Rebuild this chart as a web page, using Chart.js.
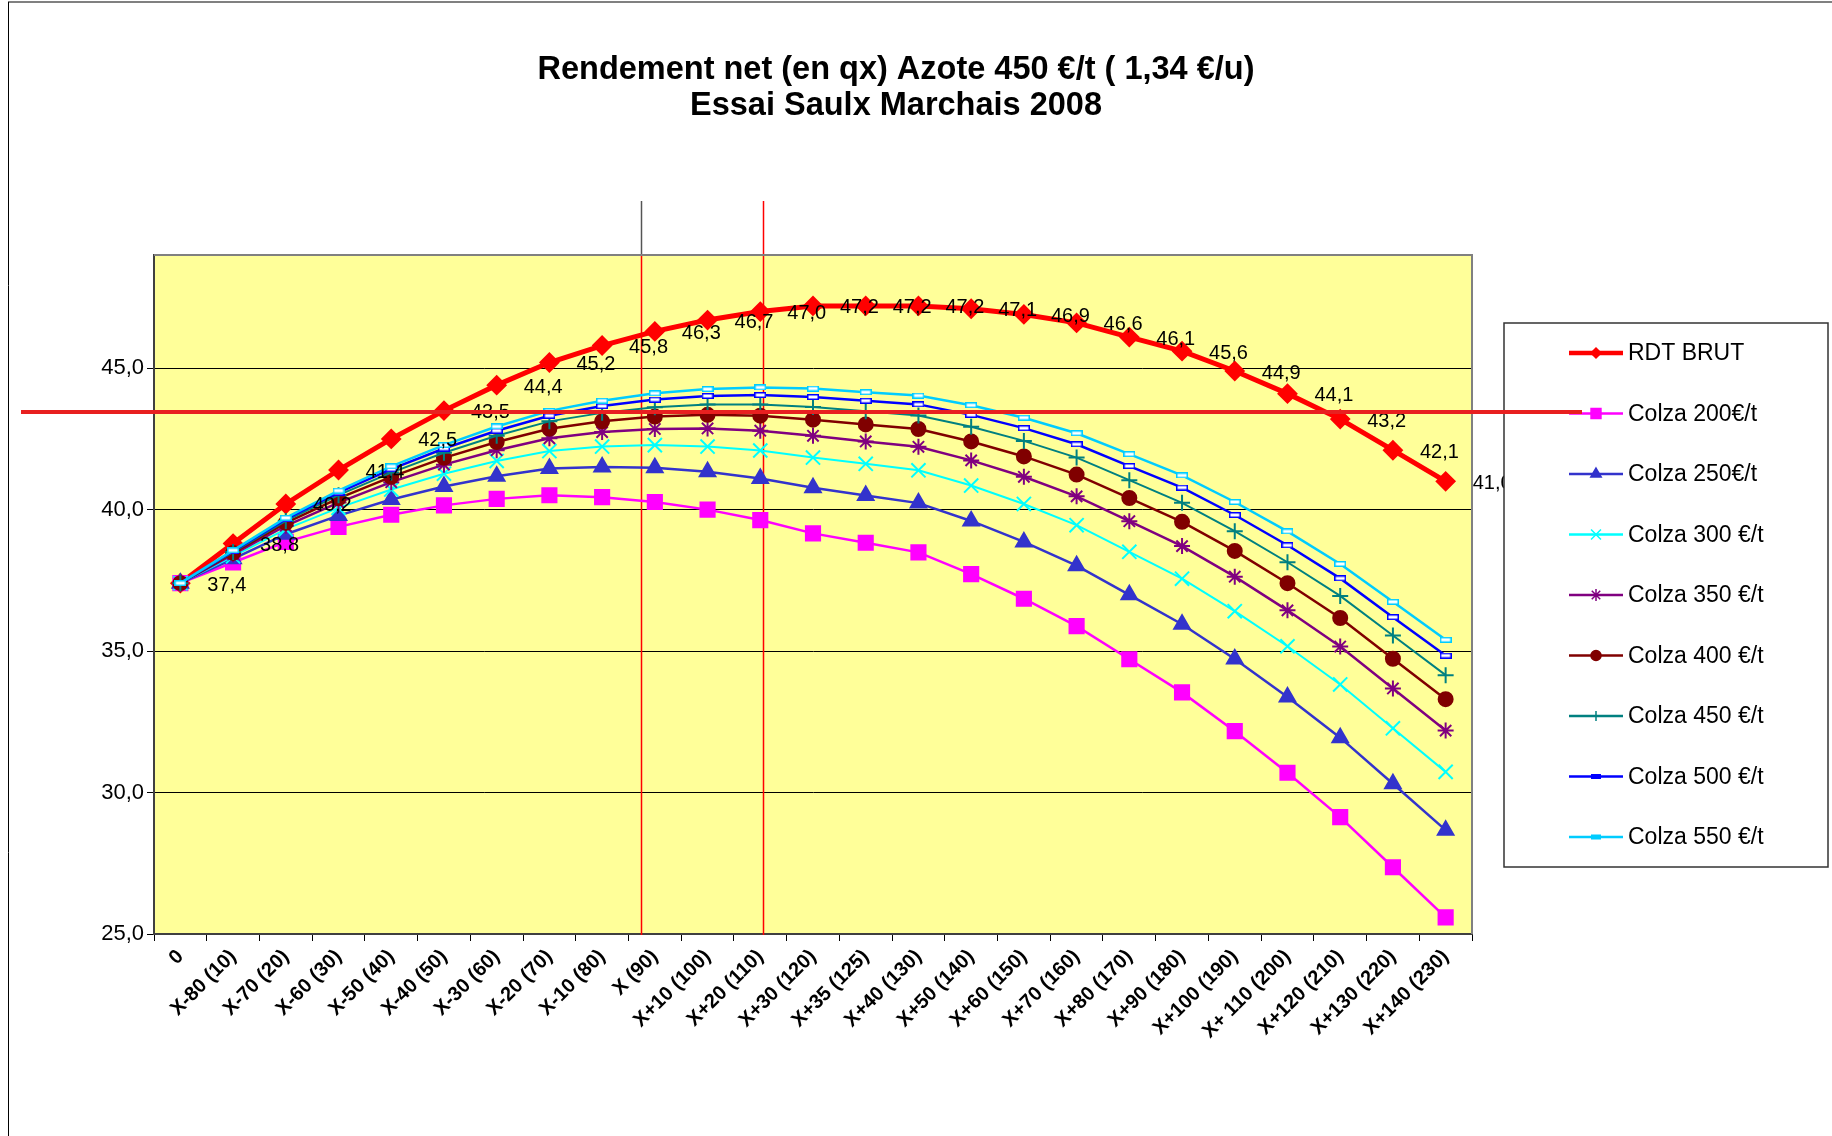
<!DOCTYPE html>
<html lang="fr">
<head>
<meta charset="UTF-8">
<title>Rendement net (en qx) Azote 450 €/t</title>
<script src="https://cdn.jsdelivr.net/npm/chart.js"></script>
<style>
  html, body { margin: 0; padding: 0; background: #fff; }
  #wrap { width: 1832px; height: 1136px; position: relative; }
</style>
</head>
<body>
<div id="wrap"><canvas id="chart"></canvas></div>
<script>
// doses d'azote (X = dose conseillée, 90 u)
const categories = ['0', 'X-80 (10)', 'X-70 (20)', 'X-60 (30)', 'X-50 (40)', 'X-40 (50)', 'X-30 (60)',
  'X-20 (70)', 'X-10 (80)', 'X (90)', 'X+10 (100)', 'X+20 (110)', 'X+30 (120)', 'X+35 (125)',
  'X+40 (130)', 'X+50 (140)', 'X+60 (150)', 'X+70 (160)', 'X+80 (170)', 'X+90 (180)',
  'X+100 (190)', 'X+ 110 (200)', 'X+120 (210)', 'X+130 (220)', 'X+140 (230)'];

const rdtBrut  = [37.4, 38.8, 40.2, 41.4, 42.5, 43.5, 44.4, 45.2, 45.8, 46.3, 46.7, 47.0, 47.2, 47.2, 47.2, 47.1, 46.9, 46.6, 46.1, 45.6, 44.9, 44.1, 43.2, 42.1, 41.0];
const colza200 = [37.4, 38.13, 38.86, 39.39, 39.82, 40.15, 40.38, 40.51, 40.44, 40.27, 40.00, 39.63, 39.16, 38.83, 38.49, 37.72, 36.85, 35.88, 34.71, 33.54, 32.17, 30.70, 29.13, 27.36, 25.59];
const colza250 = [37.4, 38.26, 39.13, 39.79, 40.36, 40.82, 41.18, 41.45, 41.51, 41.48, 41.34, 41.10, 40.77, 40.50, 40.23, 39.60, 38.86, 38.02, 36.99, 35.95, 34.72, 33.38, 31.94, 30.31, 28.67];
const colza300 = [37.4, 38.35, 39.31, 40.06, 40.71, 41.27, 41.72, 42.07, 42.23, 42.28, 42.23, 42.09, 41.84, 41.62, 41.39, 40.85, 40.20, 39.45, 38.51, 37.56, 36.41, 35.17, 33.82, 32.27, 30.73];
const colza350 = [37.4, 38.42, 39.43, 40.25, 40.97, 41.59, 42.10, 42.52, 42.74, 42.85, 42.87, 42.79, 42.61, 42.41, 42.22, 41.74, 41.16, 40.47, 39.59, 38.71, 37.63, 36.44, 35.16, 33.68, 32.19];
const colza400 = [37.4, 38.47, 39.53, 40.40, 41.16, 41.83, 42.39, 42.86, 43.12, 43.29, 43.35, 43.32, 43.18, 43.01, 42.85, 42.41, 41.88, 41.24, 40.41, 39.57, 38.54, 37.40, 36.17, 34.73, 33.30];
const colza450 = [37.4, 38.50, 39.60, 40.51, 41.31, 42.01, 42.61, 43.12, 43.42, 43.62, 43.72, 43.72, 43.63, 43.48, 43.33, 42.93, 42.43, 41.84, 41.04, 40.24, 39.24, 38.14, 36.95, 35.55, 34.15];
const colza500 = [37.4, 38.53, 39.66, 40.60, 41.43, 42.16, 42.79, 43.32, 43.66, 43.89, 44.02, 44.05, 43.98, 43.85, 43.72, 43.35, 42.88, 42.31, 41.54, 40.78, 39.81, 38.74, 37.57, 36.20, 34.84];
const colza550 = [37.4, 38.56, 39.71, 40.67, 41.53, 42.28, 42.94, 43.49, 43.85, 44.11, 44.26, 44.32, 44.28, 44.15, 44.03, 43.69, 43.25, 42.70, 41.96, 41.21, 40.27, 39.23, 38.08, 36.74, 35.40];

const yTicks = [25, 30, 35, 40, 45];
const yMin = 25, yMax = 49;

// traits rouges ajoutés à la main sur le graphique
const traitsVerticaux = [8.74, 11.05];
const traitHorizontal = 43.45;

const FONT = "'Liberation Sans', Arial, sans-serif";

function dashMarker(color) {
  const c = document.createElement('canvas');
  c.width = 12; c.height = 6;
  const g = c.getContext('2d');
  g.fillStyle = '#fff';
  g.fillRect(1, 1, 10, 4);
  g.strokeStyle = color;
  g.lineWidth = 1.5;
  g.strokeRect(0.75, 0.75, 10.5, 4.5);
  return c;
}

const series = [
  { label: 'RDT BRUT',      data: rdtBrut,  color: '#FF0000', width: 5,   style: 'rectRot',  r: 9,  lw: 4.5, ls: 'rectRot',  lr: 5 },
  { label: 'Colza 200€/t',  data: colza200, color: '#FF00FF', width: 2.5, style: 'rect',     r: 10, lw: 2.5, ls: 'rect',     lr: 7 },
  { label: 'Colza 250€/t',  data: colza250, color: '#3333CC', width: 2.5, style: 'triangle', r: 9,  lw: 2.5, ls: 'triangle', lr: 6 },
  { label: 'Colza 300 €/t', data: colza300, color: '#00FFFF', width: 2,   style: 'crossRot', r: 10, lw: 2.5, ls: 'crossRot', lr: 7 },
  { label: 'Colza 350 €/t', data: colza350, color: '#800080', width: 2.5, style: 'star',     r: 8,  lw: 2.5, ls: 'star',     lr: 6 },
  { label: 'Colza 400 €/t', data: colza400, color: '#800000', width: 2.5, style: 'circle',   r: 7,  lw: 2.5, ls: 'circle',   lr: 5 },
  { label: 'Colza 450 €/t', data: colza450, color: '#008080', width: 2,   style: 'cross',    r: 8,  lw: 2.5, ls: 'cross',    lr: 5 },
  { label: 'Colza 500 €/t', data: colza500, color: '#0000FF', width: 2.5, style: dashMarker('#0000FF'), r: 5, lw: 2.5, ls: null, lr: 0 },
  { label: 'Colza 550 €/t', data: colza550, color: '#00CCFF', width: 2.5, style: dashMarker('#00CCFF'), r: 5, lw: 2.5, ls: null, lr: 0 }
];

const fmt = v => v.toFixed(1).replace('.', ',');

const decor = {
  id: 'decor',
  beforeDraw(chart) {
    const { ctx, chartArea: a } = chart;
    ctx.save();
    ctx.fillStyle = '#fff';
    ctx.fillRect(0, 0, chart.width, chart.height);
    // cadre du graphique
    ctx.strokeStyle = '#808080';
    ctx.lineWidth = 2;
    ctx.beginPath(); ctx.moveTo(8, 2); ctx.lineTo(chart.width, 2); ctx.stroke();
    ctx.strokeStyle = '#000';
    ctx.lineWidth = 1;
    ctx.beginPath(); ctx.moveTo(8.5, 2); ctx.lineTo(8.5, chart.height); ctx.stroke();
    // zone de traçage
    ctx.fillStyle = '#FFFF99';
    ctx.fillRect(a.left, a.top, a.right - a.left, a.bottom - a.top);
    ctx.restore();
  },
  beforeDatasetsDraw(chart) {
    const { ctx, chartArea: a, scales } = chart;
    ctx.save();
    ctx.lineWidth = 1.5;
    traitsVerticaux.forEach((v, i) => {
      const x = Math.round(scales.x.getPixelForValue(v)) + 0.5;
      ctx.strokeStyle = i === 0 ? '#555' : '#FF0000';
      ctx.beginPath(); ctx.moveTo(x, 201); ctx.lineTo(x, a.top); ctx.stroke();
      ctx.strokeStyle = '#FF0000';
      ctx.beginPath(); ctx.moveTo(x, a.top); ctx.lineTo(x, a.bottom + 1); ctx.stroke();
    });
    ctx.restore();
  },
  afterDatasetsDraw(chart) {
    const { ctx, chartArea: a } = chart;
    ctx.save();
    ctx.strokeStyle = '#808080';
    ctx.lineWidth = 2;
    ctx.beginPath();
    ctx.moveTo(a.left, a.top); ctx.lineTo(a.right, a.top); ctx.lineTo(a.right, a.bottom);
    ctx.stroke();
    // étiquettes RDT BRUT
    const meta = chart.getDatasetMeta(0);
    ctx.fillStyle = '#000';
    ctx.font = '20px ' + FONT;
    ctx.textAlign = 'left';
    ctx.textBaseline = 'middle';
    meta.data.forEach((pt, i) => {
      ctx.fillText(fmt(rdtBrut[i]), pt.x + 27, pt.y + 2);
    });
    ctx.restore();
  },
  afterDraw(chart) {
    const { ctx, scales } = chart;
    ctx.save();
    // titre
    ctx.fillStyle = '#000';
    ctx.font = 'bold 32.5px ' + FONT;
    ctx.textAlign = 'center';
    ctx.textBaseline = 'alphabetic';
    ctx.fillText('Rendement net (en qx) Azote 450 €/t ( 1,34 €/u)', 896, 79);
    ctx.fillText('Essai Saulx Marchais 2008', 896, 115);

    // légende
    const bx = 1504, by = 323, bw = 324, bh = 544;
    ctx.fillStyle = '#fff';
    ctx.fillRect(bx, by, bw, bh);
    ctx.strokeStyle = '#333';
    ctx.lineWidth = 1.5;
    ctx.strokeRect(bx, by, bw, bh);
    ctx.font = '23px ' + FONT;
    ctx.textAlign = 'left';
    ctx.textBaseline = 'middle';
    series.forEach((s, i) => {
      const y = 353 + i * 60.5;
      ctx.strokeStyle = s.color;
      ctx.lineWidth = s.lw;
      ctx.beginPath(); ctx.moveTo(1569, y); ctx.lineTo(1623, y); ctx.stroke();
      ctx.fillStyle = s.color;
      ctx.lineWidth = 1.5;
      if (s.ls && Chart.helpers && Chart.helpers.drawPoint) {
        Chart.helpers.drawPoint(ctx, { pointStyle: s.ls, radius: s.lr, rotation: 0, borderWidth: 1.5 }, 1596, y);
      } else {
        ctx.fillRect(1591, y - 2.5, 10, 5);
      }
      ctx.fillStyle = '#000';
      ctx.fillText(s.label, 1628, y + 1);
    });

    // trait horizontal rouge
    const yh = scales.y.getPixelForValue(traitHorizontal);
    ctx.strokeStyle = '#E82020';
    ctx.lineWidth = 4;
    ctx.beginPath(); ctx.moveTo(21, yh); ctx.lineTo(1582, yh); ctx.stroke();
    ctx.restore();
  }
};

new Chart(document.getElementById('chart'), {
  type: 'line',
  data: {
    labels: categories,
    datasets: series.map((s, i) => ({
      label: s.label,
      data: s.data,
      borderColor: s.color,
      backgroundColor: s.color,
      borderWidth: s.width,
      pointStyle: s.style,
      pointRadius: s.r,
      pointBorderWidth: 2,
      pointBorderColor: s.color,
      pointBackgroundColor: s.color,
      tension: 0,
      fill: false,
      order: series.length - i
    }))
  },
  options: {
    responsive: true,
    maintainAspectRatio: false,
    devicePixelRatio: 1,
    animation: false,
    layout: { padding: { left: 0, right: 360, top: 255, bottom: 0 } },
    plugins: {
      legend: { display: false },
      title: { display: false },
      tooltip: { enabled: false }
    },
    scales: {
      x: {
        offset: true,
        grid: { drawOnChartArea: false, drawTicks: true, tickLength: 7, color: '#000', offset: true },
        border: { color: '#404040', width: 2 },
        ticks: {
          autoSkip: false, maxRotation: 45, minRotation: 45, padding: 4,
          color: '#000', font: { family: FONT, size: 20, weight: 'bold' }
        },
        afterFit(scale) { scale.height = 202; }
      },
      y: {
        min: yMin, max: yMax,
        afterBuildTicks(scale) { scale.ticks = yTicks.map(v => ({ value: v })); },
        grid: { color: '#000', lineWidth: 1, tickLength: 7, drawTicks: true },
        border: { color: '#404040', width: 2 },
        ticks: {
          padding: 3, color: '#000',
          font: { family: FONT, size: 22 },
          callback: v => fmt(v)
        },
        afterFit(scale) { scale.width = 154; }
      }
    }
  },
  plugins: [decor]
});
</script>
</body>
</html>
